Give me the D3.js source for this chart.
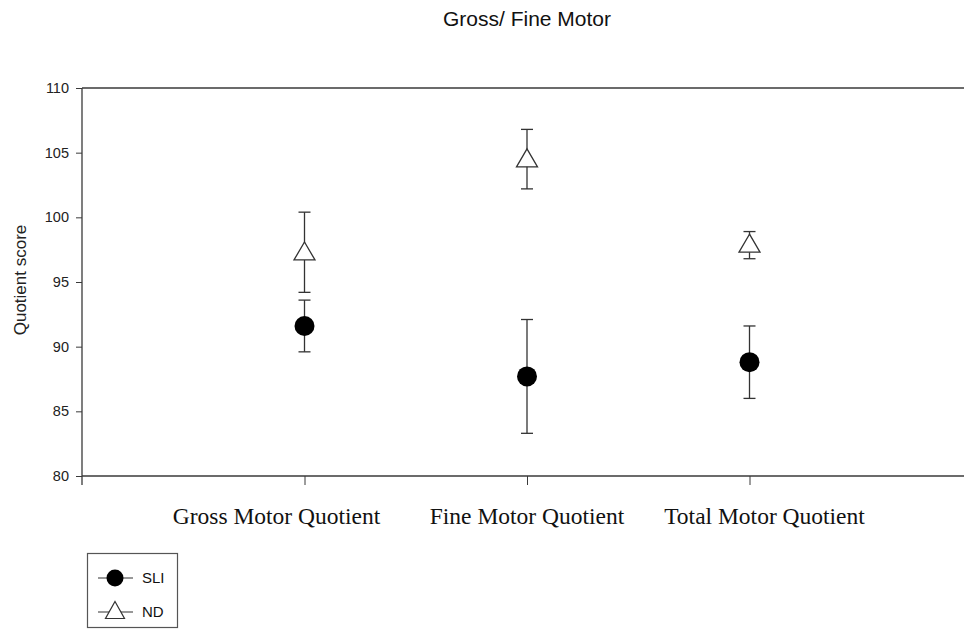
<!DOCTYPE html>
<html>
<head>
<meta charset="utf-8">
<script src="https://cdn.jsdelivr.net/npm/d3@7"></script>
<style>
  body { margin: 0; background: #fff; }
  svg { display: block; }
  .tick-label { font-family: Arial, "Liberation Sans", sans-serif; font-size: 14.5px; fill: #222; }
</style>
</head>
<body>
<div id="chart"></div>
<script>
'use strict';

// Kategorien (x-Position 1..3) und Mittelwerte mit Fehlerbalken
const categories = ['Gross Motor Quotient', 'Fine Motor Quotient', 'Total Motor Quotient'];
const labelOffsets = [-28, 0, 15];   // Beschriftung sitzt im Original nicht genau unter dem Tick

const sliMean  = [91.6, 87.7, 88.8];
const sliLow   = [89.6, 83.3, 86.0];
const sliHigh  = [93.6, 92.1, 91.6];

const ndMean   = [97.4, 104.6, 98.0];
const ndLow    = [94.2, 102.2, 96.8];
const ndHigh   = [100.4, 106.8, 98.9];

const yTicks = [80, 85, 90, 95, 100, 105, 110];

const width = 964;
const height = 629;
const margin = { top: 88, left: 82, bottom: 153 };

const svg = d3.select('#chart').append('svg')
  .attr('width', width)
  .attr('height', height);

const x = d3.scaleLinear().domain([0, 4]).range([margin.left, 972]);
const y = d3.scaleLinear().domain([80, 110]).range([height - margin.bottom, margin.top]);

const axisColor = '#3a3a3a';

// Titel
svg.append('text')
  .attr('x', 527).attr('y', 26)
  .attr('text-anchor', 'middle')
  .style('font-family', 'Arial, "Liberation Sans", sans-serif')
  .style('font-size', '21px')
  .style('fill', '#111')
  .text('Gross/ Fine Motor');

// Rahmenlinie oben (läuft rechts aus dem Bild)
svg.append('line')
  .attr('x1', x(0)).attr('x2', width + 10)
  .attr('y1', y(110)).attr('y2', y(110))
  .attr('stroke', axisColor).attr('stroke-width', 1.3);

// y-Achse
const yAxis = svg.append('g')
  .attr('transform', `translate(${x(0)},0)`)
  .call(d3.axisLeft(y).tickValues(yTicks).tickSize(6).tickPadding(7));
yAxis.select('.domain').remove();
yAxis.selectAll('line').attr('stroke', axisColor);
yAxis.selectAll('text').attr('class', 'tick-label').attr('fill', '#222');
yAxis.append('line')
  .attr('x1', 0).attr('x2', 0)
  .attr('y1', y(110)).attr('y2', y(80) + 9)
  .attr('stroke', axisColor).attr('stroke-width', 1.3);

// x-Achse
const xAxis = svg.append('g')
  .attr('transform', `translate(0,${y(80)})`)
  .call(d3.axisBottom(x).tickValues([1, 2, 3]).tickSize(9).tickFormat(''));
xAxis.select('.domain').remove();
xAxis.selectAll('line').attr('stroke', axisColor);
xAxis.append('line')
  .attr('x1', x(0)).attr('x2', width + 10)
  .attr('y1', 0).attr('y2', 0)
  .attr('stroke', axisColor).attr('stroke-width', 1.3);

svg.append('g').selectAll('text')
  .data(categories)
  .join('text')
  .attr('x', (d, i) => x(i + 1) + labelOffsets[i])
  .attr('y', 524)
  .attr('text-anchor', 'middle')
  .style('font-family', '"Liberation Serif", "Times New Roman", serif')
  .style('font-size', '23.5px')
  .style('fill', '#111')
  .text(d => d);

// y-Beschriftung
svg.append('text')
  .attr('transform', `translate(26,${(y(80) + y(110)) / 2 - 2}) rotate(-90)`)
  .attr('text-anchor', 'middle')
  .style('font-family', 'Arial, "Liberation Sans", sans-serif')
  .style('font-size', '17px')
  .style('fill', '#222')
  .text('Quotient score');

// Fehlerbalken
function errorBars(means, lows, highs) {
  const g = svg.append('g');
  const rows = means.map((m, i) => ({ i, m, lo: lows[i], hi: highs[i] }));
  g.selectAll('line.stem').data(rows).join('line')
    .attr('x1', d => x(d.i + 1)).attr('x2', d => x(d.i + 1))
    .attr('y1', d => y(d.lo)).attr('y2', d => y(d.hi))
    .attr('stroke', '#333').attr('stroke-width', 1.3);
  ['lo', 'hi'].forEach(k => {
    g.selectAll('line.cap-' + k).data(rows).join('line')
      .attr('x1', d => x(d.i + 1) - 6).attr('x2', d => x(d.i + 1) + 6)
      .attr('y1', d => y(d[k])).attr('y2', d => y(d[k]))
      .attr('stroke', '#333').attr('stroke-width', 1.3);
  });
}
errorBars(sliMean, sliLow, sliHigh);
errorBars(ndMean, ndLow, ndHigh);

function trianglePath(cx, cy, w, h) {
  return `M${cx},${cy - h / 2}L${cx + w / 2},${cy + h / 2}L${cx - w / 2},${cy + h / 2}Z`;
}

// Marker
svg.append('g').selectAll('circle')
  .data(sliMean)
  .join('circle')
  .attr('cx', (d, i) => x(i + 1))
  .attr('cy', d => y(d))
  .attr('r', 10)
  .attr('fill', '#000');

svg.append('g').selectAll('path')
  .data(ndMean)
  .join('path')
  .attr('d', (d, i) => trianglePath(x(i + 1), y(d), 21, 18))
  .attr('fill', '#fff')
  .attr('stroke', '#333')
  .attr('stroke-width', 1.3);

// Legende
const legend = svg.append('g');
legend.append('rect')
  .attr('x', 87.5).attr('y', 553.5)
  .attr('width', 90).attr('height', 74)
  .attr('fill', '#fff')
  .attr('stroke', '#555').attr('stroke-width', 1.2);

const legendItems = [
  { name: 'SLI', y: 578, type: 'circle' },
  { name: 'ND', y: 612, type: 'triangle' }
];
legendItems.forEach(item => {
  legend.append('line')
    .attr('x1', 98).attr('x2', 133)
    .attr('y1', item.y).attr('y2', item.y)
    .attr('stroke', '#333').attr('stroke-width', 1.2);
  if (item.type === 'circle') {
    legend.append('circle').attr('cx', 115).attr('cy', item.y).attr('r', 8.5).attr('fill', '#000');
  } else {
    legend.append('path')
      .attr('d', trianglePath(115, item.y - 2, 19, 17))
      .attr('fill', '#fff').attr('stroke', '#333').attr('stroke-width', 1.2);
  }
  legend.append('text')
    .attr('x', 142).attr('y', item.y + 5)
    .style('font-family', 'Arial, "Liberation Sans", sans-serif')
    .style('font-size', '15px')
    .style('fill', '#111')
    .text(item.name);
});
</script>
</body>
</html>
